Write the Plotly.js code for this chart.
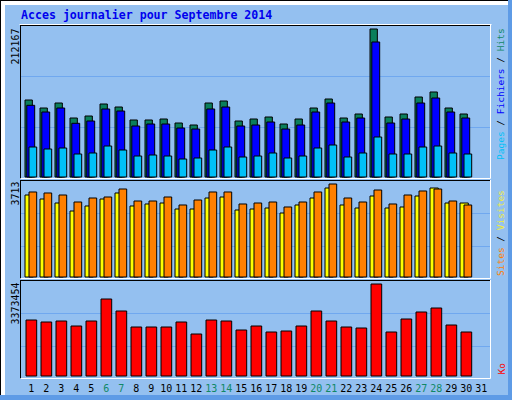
<!DOCTYPE html>
<html><head><meta charset="utf-8">
<script src="https://cdn.plot.ly/plotly-3.0.1.min.js"></script>
<style>html,body{margin:0;padding:0;background:#94c0f0;overflow:hidden}#chart{width:512px;height:400px}</style>
</head><body><div id="chart"></div>
<script>
const titleText = "Acces journalier pour Septembre 2014";
const days = [1,2,3,4,5,6,7,8,9,10,11,12,13,14,15,16,17,18,19,20,21,22,23,24,25,26,27,28,29,30,31];
const dayLabels = ["1","2","3","4","5","6","7","8","9","10","11","12","13","14","15","16","17","18","19","20","21","22","23","24","25","26","27","28","29","30","31"];
const weekendDays = [6,7,13,14,20,21,27,28];

const hits  = [110390,98920,106090,84580,87450,104650,100350,81720,81720,83150,77410,74550,106090,108950,80280,83150,86020,75980,83150,98920,111820,84580,90320,212167,86020,90320,114690,121860,98920,90320,null];
const files = [102790,93180,98920,76980,80280,97490,94620,73110,75980,75980,70250,68810,97490,100350,73110,74550,78850,68810,74550,93180,106090,78850,84580,193540,77410,83150,106090,113250,93180,84580,null];
const pages = [43010,40140,41570,32970,34410,44440,38710,30110,31540,30110,25800,27240,38710,43010,28670,30110,34410,27240,30110,41570,45880,28670,34410,57340,32970,32970,43010,44440,34410,32970,null];
const sites  = [3274,3114,2954,2635,2835,3114,3354,2835,2915,2954,2715,2715,3154,3194,2675,2715,2755,2555,2875,3154,3553,2875,2755,3234,2755,2795,3234,3553,2954,2954,null];
const visits = [3394,3354,3274,2994,3154,3194,3513,3034,3034,3194,2875,3074,3394,3394,2915,2954,2994,2795,2994,3394,3713,3154,2994,3473,2915,3274,3434,3513,3034,2875,null];
const ko = [2053400,1980100,2016700,1833400,2016700,2823400,2383400,1796700,1796700,1796700,1980100,1540100,2053400,2016700,1686700,1833400,1613400,1650100,1833400,2383400,2016700,1796700,1760100,3373454,1613400,2090100,2346800,2493400,1870100,1613400,null];

const maxHits = "212167", maxVisits = "3713", maxKo = "3373454";

const W = 512, H = 400;
const fx = p => p / W;
const fy = p => 1 - p / H;

const C = {
  bg: '#94c0f0', dark: '#5e9be6', grid: '#70a8ef',
  hits: '#0a7f5c', files: '#0000ff', pages: '#00c0f8',
  sites: '#ffff00', visits: '#ff8000', ko: '#ff0000',
  title: '#0000ee', weekend: '#118866'
};

const edge = {color: '#000000', width: 1};
function bar(y, yaxis, color, offset, width, name) {
  return {type: 'bar', x: days, y: y, yaxis: yaxis, xaxis: 'x', name: name,
    offset: offset, width: width, marker: {color: color, line: edge},
    hoverinfo: 'skip', showlegend: false};
}

const traces = [
  bar(hits, 'y', C.hits, -0.42, 0.49, 'Hits'),
  bar(files, 'y', C.files, -0.30, 0.527, 'Fichiers'),
  bar(pages, 'y', C.pages, -0.153, 0.513, 'Pages'),
  bar(sites, 'y2', C.sites, -0.42, 0.553, 'Sites'),
  bar(visits, 'y2', C.visits, -0.153, 0.513, 'Visites'),
  bar(ko, 'y3', C.ko, -0.353, 0.713, 'Ko')
];

const tickText = dayLabels.map((t, i) => weekendDays.includes(days[i]) ? '<span style="color:' + C.weekend + '">' + t + '</span>' : t);

function hline(y, x0, x1, color, layer) {
  return {type: 'line', xref: 'paper', yref: 'paper', x0: fx(x0), x1: fx(x1), y0: fy(y), y1: fy(y), line: {color: color, width: 1}, layer: layer || 'above'};
}
function vline(x, y0, y1, color, layer) {
  return {type: 'line', xref: 'paper', yref: 'paper', x0: fx(x), x1: fx(x), y0: fy(y0), y1: fy(y1), line: {color: color, width: 1}, layer: layer || 'above'};
}
function rect(x0, y0, x1, y1, fill) {
  return {type: 'rect', xref: 'paper', yref: 'paper', x0: fx(x0), x1: fx(x1), y0: fy(y1), y1: fy(y0), fillcolor: fill, line: {width: 0}, layer: 'below'};
}

const PL = 20.5, PR = 490.5;
const shapes = [
  rect(0, 0, 512, 400, C.dark),
  rect(0, 0, 508, 395, '#ffffff'),
  rect(5, 5, 508, 395, C.bg),
  hline(0.5, 0, 508, '#000000', 'below'),
  vline(0.5, 0, 395, '#000000', 'below'),
  // gridlines
  hline(76.5, PL, PR, C.grid, 'below'), hline(127.5, PL, PR, C.grid, 'below'),
  hline(213.5, PL, PR, C.grid, 'below'), hline(246.5, PL, PR, C.grid, 'below'),
  hline(313.5, PL, PR, C.grid, 'below'), hline(346.5, PL, PR, C.grid, 'below'),
  // panel frames
  hline(24.5, PL - 1, PR + 1, '#ffffff'),
  hline(25.5, PL, PR, '#000000'), vline(PL, 25, 178.5, '#000000'),
  vline(PR, 25, 178.5, '#ffffff'), hline(178.5, PL, PR, '#ffffff'),
  hline(180.5, PL, PR, '#000000'), vline(PL, 180, 278.5, '#000000'),
  vline(PR, 180, 278.5, '#ffffff'), hline(278.5, PL, PR, '#ffffff'),
  hline(280.5, PL, PR, '#000000'), vline(PL, 280, 378.5, '#000000'),
  vline(PR, 280, 378.5, '#ffffff'), hline(378.5, PL, PR, '#ffffff')
];

const mono = 'DejaVu Sans Mono, monospace';
const annotations = [
  {text: '<b>' + titleText + '</b>', xref: 'paper', yref: 'paper', x: fx(20), y: fy(15), xanchor: 'left', yanchor: 'middle', showarrow: false, font: {family: mono, size: 11.6, color: C.title}, borderpad: 0},
  {text: maxHits, xref: 'paper', yref: 'paper', x: fx(15), y: fy(27.5), xanchor: 'center', yanchor: 'top', textangle: -90, showarrow: false, font: {family: mono, size: 10, color: '#000'}, borderpad: 0},
  {text: maxVisits, xref: 'paper', yref: 'paper', x: fx(15), y: fy(180.5), xanchor: 'center', yanchor: 'top', textangle: -90, showarrow: false, font: {family: mono, size: 10, color: '#000'}, borderpad: 0},
  {text: maxKo, xref: 'paper', yref: 'paper', x: fx(15), y: fy(281.5), xanchor: 'center', yanchor: 'top', textangle: -90, showarrow: false, font: {family: mono, size: 10, color: '#000'}, borderpad: 0},
  {text: '<span style="color:' + C.pages + '">Pages</span> / <span style="color:' + C.files + '">Fichiers</span> / <span style="color:' + C.weekend + '">Hits</span>', xref: 'paper', yref: 'paper', x: fx(500.5), y: fy(27.5), xanchor: 'center', yanchor: 'top', textangle: -90, showarrow: false, font: {family: mono, size: 9.5, color: '#000'}, borderpad: 0},
  {text: '<span style="color:' + C.visits + '">Sites</span> / <span style="color:#f0ec3a">Visites</span>', xref: 'paper', yref: 'paper', x: fx(500.5), y: fy(277.5), xanchor: 'center', yanchor: 'bottom', textangle: -90, showarrow: false, font: {family: mono, size: 9.5, color: '#000'}, borderpad: 0},
  {text: 'Ko', xref: 'paper', yref: 'paper', x: fx(500.5), y: fy(376), xanchor: 'center', yanchor: 'bottom', textangle: -90, showarrow: false, font: {family: mono, size: 9.5, color: C.ko}, borderpad: 0}
];

const hidden = {showgrid: false, zeroline: false, showline: false, showticklabels: false, ticks: '', fixedrange: true};
const layout = {
  width: W, height: H,
  margin: {l: 0, r: 0, t: 0, b: 0, pad: 0},
  paper_bgcolor: C.bg, plot_bgcolor: 'rgba(0,0,0,0)',
  barmode: 'overlay', showlegend: false,
  xaxis: {domain: [fx(20), fx(491)], range: [0.2467, 31.647], anchor: 'y3',
    tickmode: 'array', tickvals: days, ticktext: tickText, ticks: '',
    ticklabelstandoff: 2,
    tickfont: {family: mono, size: 10, color: '#000'},
    showgrid: false, zeroline: false, showline: false, fixedrange: true},
  yaxis: Object.assign({domain: [fy(178), fy(25)], range: [-1434, 217901]}, hidden),
  yaxis2: Object.assign({domain: [fy(279), fy(180)], range: [-79.8, 3872.7]}, hidden),
  yaxis3: Object.assign({domain: [fy(379), fy(280)], range: [-110004, 3520134]}, hidden),
  shapes: shapes, annotations: annotations
};

Plotly.newPlot('chart', traces, layout, {staticPlot: true, displayModeBar: false});
</script></body></html>
